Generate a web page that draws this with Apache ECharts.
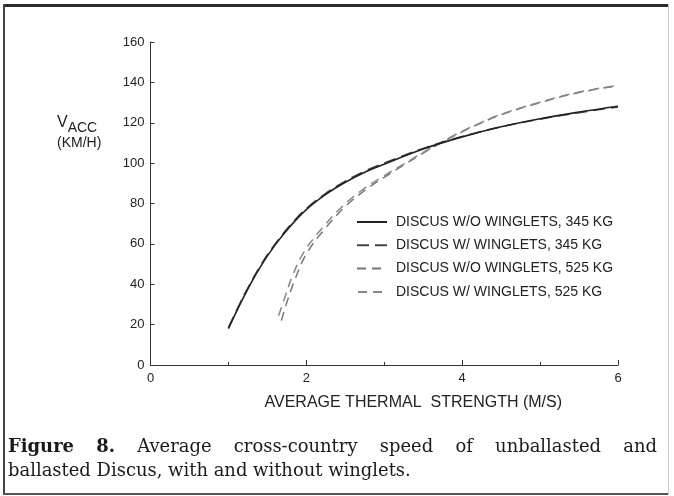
<!DOCTYPE html>
<html>
<head>
<meta charset="utf-8">
<script src="https://cdn.jsdelivr.net/npm/echarts@6/dist/echarts.min.js"></script>
<style>
html,body{margin:0;padding:0;background:#fff;}
#chart{width:674px;height:496px;}
</style>
</head>
<body>
<div id="chart"></div>
<script>
// ---- data ----
const seriesNames = [
  'DISCUS W/O WINGLETS, 345 KG',
  'DISCUS W/ WINGLETS, 345 KG',
  'DISCUS W/O WINGLETS, 525 KG',
  'DISCUS W/ WINGLETS, 525 KG'
];
const xTickLabels = ['0', '2', '4', '6'];
const yTickLabels = ['0', '20', '40', '60', '80', '100', '120', '140', '160'];

const x345 = [1.0, 1.2, 1.4, 1.6, 1.8, 2.0, 2.25, 2.5, 2.75, 3.0, 3.5, 4.0, 4.5, 5.0, 5.5, 6.0];
const vWo345 = [18, 34, 48, 59.5, 69, 77, 84.5, 90.5, 95.5, 99.5, 107, 113, 118, 122, 125.3, 128.2];
const vW345  = [18.5, 34.5, 48.5, 60, 69.5, 77.5, 85, 91, 96, 100, 107.3, 113.2, 118, 121.8, 125, 127.8];

const xWo525 = [1.68, 1.75, 1.85, 2.0, 2.25, 2.5, 2.75, 3.0, 3.25, 3.5, 3.75, 4.0, 4.25, 4.5, 5.0, 5.5, 6.0];
const vWo525 = [22, 31, 42, 55, 68, 78.5, 86.5, 93, 99, 105, 110.5, 115.5, 120, 124, 130, 135, 138.3];
const xW525  = [1.64, 1.72, 1.82, 1.97, 2.22, 2.47, 2.72, 2.98, 3.25, 3.5, 3.75, 4.0, 4.25, 4.5, 5.0, 5.5, 6.0];
const vW525  = [24, 33, 44, 56, 68.5, 78.8, 86.8, 93.3, 99.5, 105.3, 110.8, 115.8, 120.2, 124.2, 130.2, 135.2, 138.5];

const captionLine1 = ['Figure', '8.', 'Average', 'cross-country', 'speed', 'of', 'unballasted', 'and'];
const captionLine2 = 'ballasted Discus, with and without winglets.';

function pairs(xs, ys) { return xs.map((x, i) => [x, ys[i]]); }

// ---- caption layout (justified first line, size fitted to the second line) ----
const capFont = 'DejaVu Serif';
const capLeft = 8, capRight = 657, capLine2Right = 411;
const mctx = document.createElement('canvas').getContext('2d');
function wordWidth(w, bold, size) {
  mctx.font = (bold ? 'bold ' : '') + size + 'px "' + capFont + '"';
  return mctx.measureText(w).width;
}
const baseW = wordWidth(captionLine2, false, 20);
const capSize = Math.min(21, Math.max(16, 20 * (capLine2Right - capLeft) / baseW));
const widths1 = captionLine1.map((w, i) => wordWidth(w, i < 2, capSize));
const total1 = widths1.reduce((a, b) => a + b, 0);
const gap1 = (capRight - capLeft - total1) / (captionLine1.length - 1);
const captionEls = [];
let cx = capLeft;
captionLine1.forEach((w, i) => {
  captionEls.push({
    type: 'text', x: cx, y: 447,
    style: { text: w, fontFamily: capFont, fontSize: capSize, fontWeight: i < 2 ? 'bold' : 'normal',
      fill: '#1a1a1a', verticalAlign: 'middle', textVerticalAlign: 'middle' }
  });
  cx += widths1[i] + gap1;
});
captionEls.push({
  type: 'text', x: capLeft, y: 471,
  style: { text: captionLine2, fontFamily: capFont, fontSize: capSize, fill: '#1a1a1a',
    verticalAlign: 'middle', textVerticalAlign: 'middle' }
});

const chart = echarts.init(document.getElementById('chart'), null, { renderer: 'canvas' });
const axisColor = '#333';
const sansFont = 'Liberation Sans';

const option = {
  backgroundColor: '#fff',
  animation: false,
  grid: { left: 150.5, right: 56, top: 42, bottom: 131, containLabel: false },
  xAxis: {
    type: 'value', min: 0, max: 6, interval: 2,
    name: 'AVERAGE THERMAL  STRENGTH (M/S)',
    nameLocation: 'middle', nameGap: 30,
    nameTextStyle: { fontFamily: sansFont, fontSize: 16, color: '#222', padding: [0, 0, 0, 58] },
    axisLine: { lineStyle: { color: axisColor, width: 1 } },
    axisTick: { inside: true, length: 5, lineStyle: { color: axisColor } },
    minorTick: { show: true, splitNumber: 2, length: 3, lineStyle: { color: axisColor } },
    splitLine: { show: false },
    axisLabel: { fontFamily: sansFont, fontSize: 13, color: '#222', margin: 7,
      formatter: v => xTickLabels[xTickLabels.indexOf(String(v))] }
  },
  yAxis: {
    type: 'value', min: 0, max: 160, interval: 20,
    axisLine: { show: true, lineStyle: { color: axisColor, width: 1 } },
    axisTick: { show: true, inside: true, length: 4, lineStyle: { color: axisColor } },
    splitLine: { show: false },
    axisLabel: { fontFamily: sansFont, fontSize: 13, color: '#222', margin: 6,
      formatter: v => yTickLabels[yTickLabels.indexOf(String(v))] }
  },
  legend: {
    orient: 'vertical', left: 356, top: 215, padding: 0,
    itemWidth: 30, itemHeight: 14, itemGap: 9.3,
    itemStyle: { color: 'rgba(0,0,0,0)', borderColor: 'rgba(0,0,0,0)', borderWidth: 0 },
    textStyle: { fontFamily: sansFont, fontSize: 14, color: '#222', padding: [0, 0, 0, 4] },
    data: seriesNames
  },
  series: [
    { name: seriesNames[0], type: 'line', smooth: 0.4, symbol: 'none', z: 4,
      lineStyle: { color: '#222', width: 1.6, type: 'solid' },
      itemStyle: { color: '#222' },
      data: pairs(x345, vWo345) },
    { name: seriesNames[1], type: 'line', smooth: 0.4, symbol: 'none', z: 3,
      lineStyle: { color: '#444', width: 1.6, type: [12, 6] },
      itemStyle: { color: '#444' },
      data: pairs(x345, vW345) },
    { name: seriesNames[2], type: 'line', smooth: 0.4, symbol: 'none', z: 2,
      lineStyle: { color: '#777', width: 1.5, type: [9, 6] },
      itemStyle: { color: '#777' },
      data: pairs(xWo525, vWo525) },
    { name: seriesNames[3], type: 'line', smooth: 0.4, symbol: 'none', z: 2,
      lineStyle: { color: '#888', width: 1.5, type: [9, 6], dashOffset: 14 },
      itemStyle: { color: '#888' },
      data: pairs(xW525, vW525) }
  ],
  graphic: [
    // y axis title
    { type: 'text', left: 57, top: 115,
      style: { text: '{v|V}{s|ACC}', fontFamily: sansFont, fill: '#222',
        rich: { v: { fontSize: 16, fontFamily: sansFont, color: '#222', verticalAlign: 'top' },
                s: { fontSize: 14, fontFamily: sansFont, color: '#222', padding: [6, 0, 0, 0], verticalAlign: 'top' } } } },
    { type: 'text', left: 57, top: 136,
      style: { text: '(KM/H)', fontFamily: sansFont, fontSize: 14, fill: '#222' } },
    // frame
    { type: 'rect', shape: { x: 3, y: 4, width: 666, height: 3 }, style: { fill: '#2b2b2b' } },
    { type: 'rect', shape: { x: 3, y: 4, width: 2, height: 491 }, style: { fill: '#444' } },
    { type: 'rect', shape: { x: 3, y: 493, width: 666, height: 2 }, style: { fill: '#555' } },
    { type: 'rect', shape: { x: 668, y: 4, width: 1, height: 491 }, style: { fill: '#ccc' } }
  ].concat(captionEls)
};
chart.setOption(option);
</script>
</body>
</html>
